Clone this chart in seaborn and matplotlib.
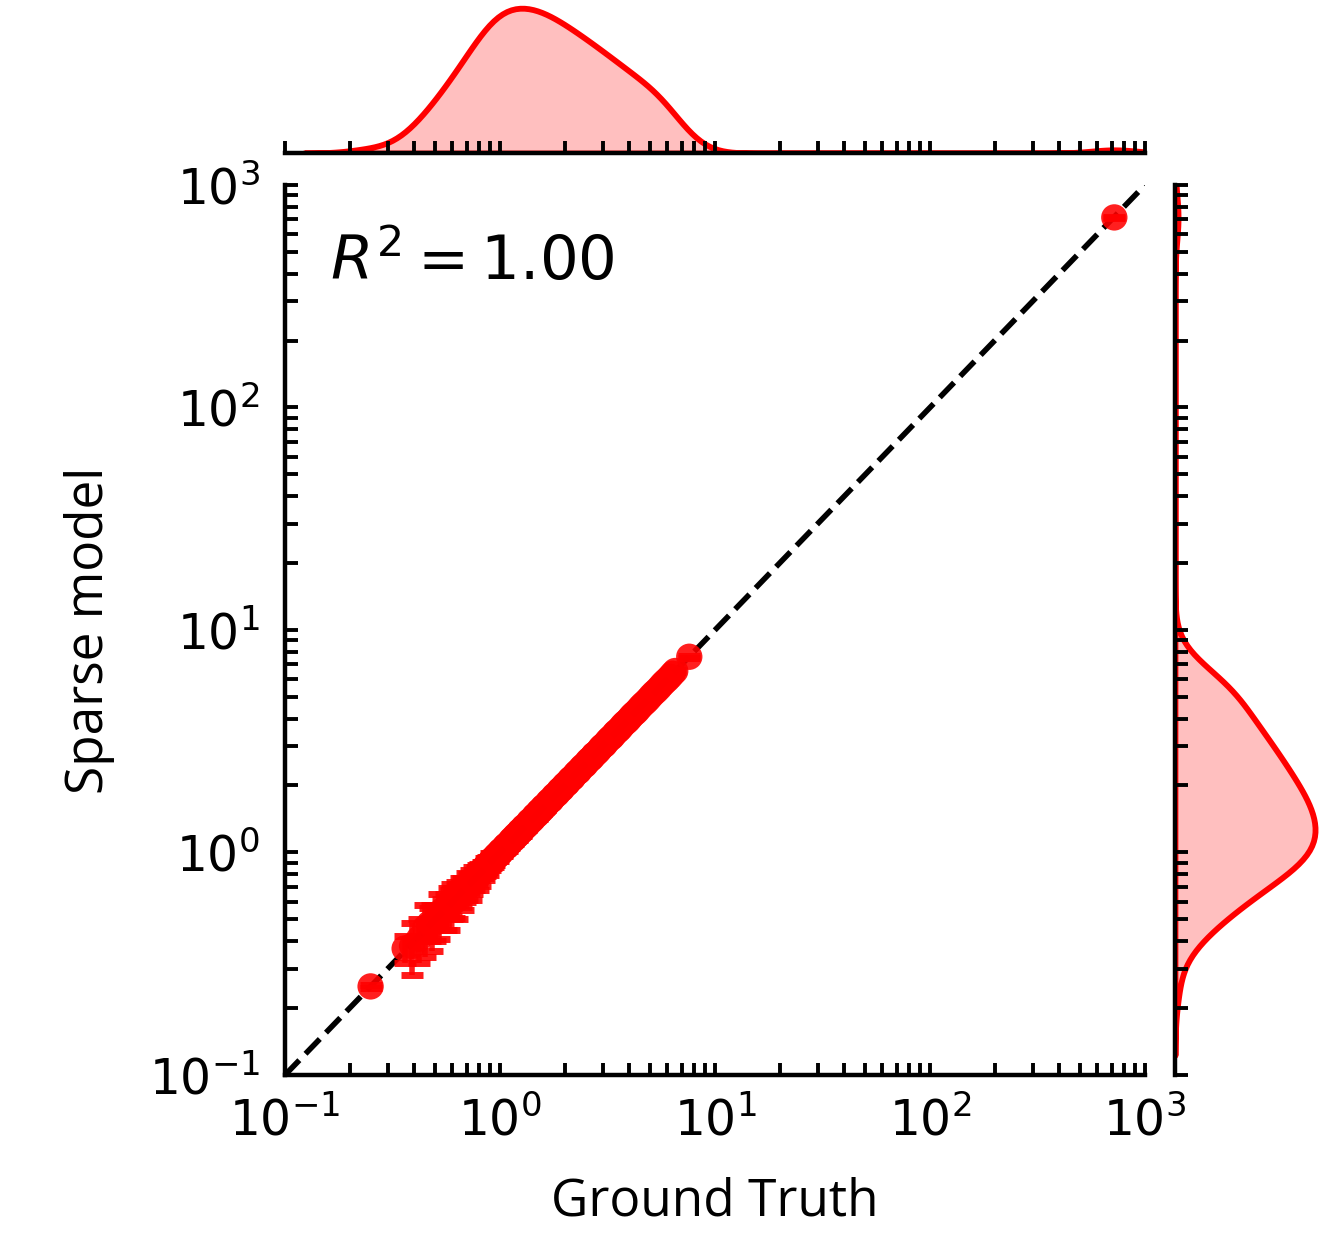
import numpy as np
import pandas as pd
import matplotlib
matplotlib.use("Agg")
import matplotlib.pyplot as plt
import seaborn as sns

ground_truth = [0.25, 0.36, 0.39, 0.42, 0.45, 0.47, 0.48, 0.50, 0.52, 0.54,
                0.56, 0.58, 0.59, 0.60, 0.61, 0.63, 0.64, 0.66, 0.67, 0.69,
                0.70, 0.72, 0.73, 0.74, 0.76, 0.78, 0.79, 0.80, 0.81, 0.83,
                0.84, 0.85, 0.86, 0.87, 0.88, 0.90, 0.91, 0.92, 0.93, 0.94,
                0.95, 0.97, 0.98, 0.99, 1.00, 1.01, 1.02, 1.04, 1.05, 1.07,
                1.08, 1.10, 1.12, 1.14, 1.15, 1.16, 1.17, 1.19, 1.20, 1.22,
                1.23, 1.24, 1.25, 1.27, 1.28, 1.30, 1.32, 1.35, 1.36, 1.38,
                1.40, 1.43, 1.44, 1.46, 1.48, 1.50, 1.51, 1.53, 1.55, 1.57,
                1.58, 1.60, 1.62, 1.64, 1.67, 1.70, 1.72, 1.74, 1.77, 1.80,
                1.83, 1.86, 1.88, 1.91, 1.93, 1.95, 1.98, 2.02, 2.04, 2.07,
                2.10, 2.14, 2.16, 2.19, 2.24, 2.29, 2.31, 2.34, 2.38, 2.43,
                2.47, 2.51, 2.55, 2.60, 2.64, 2.69, 2.72, 2.75, 2.81, 2.88,
                2.93, 2.99, 3.04, 3.09, 3.16, 3.24, 3.29, 3.35, 3.41, 3.47,
                3.55, 3.63, 3.71, 3.80, 3.89, 3.98, 4.07, 4.17, 4.27, 4.37,
                4.49, 4.62, 4.76, 4.90, 5.04, 5.19, 5.34, 5.50, 5.66, 5.82,
                5.99, 6.17, 6.35, 6.53, 7.59, 720.0]
sparse_model = [0.25, 0.37, 0.38, 0.41, 0.46, 0.48, 0.47, 0.49, 0.53, 0.55,
                0.55, 0.57, 0.60, 0.61, 0.60, 0.62, 0.65, 0.67, 0.66, 0.68,
                0.71, 0.73, 0.72, 0.73, 0.77, 0.79, 0.78, 0.81, 0.80, 0.84,
                0.83, 0.84, 0.87, 0.88, 0.87, 0.89, 0.92, 0.93, 0.92, 0.93,
                0.96, 0.98, 0.97, 0.98, 1.01, 1.02, 1.01, 1.03, 1.06, 1.08,
                1.07, 1.09, 1.13, 1.15, 1.14, 1.15, 1.18, 1.20, 1.19, 1.21,
                1.24, 1.25, 1.24, 1.26, 1.29, 1.31, 1.31, 1.34, 1.37, 1.39,
                1.39, 1.42, 1.45, 1.47, 1.47, 1.49, 1.52, 1.54, 1.54, 1.56,
                1.59, 1.61, 1.61, 1.63, 1.68, 1.71, 1.71, 1.73, 1.78, 1.81,
                1.82, 1.85, 1.89, 1.92, 1.92, 1.94, 1.99, 2.03, 2.03, 2.06,
                2.11, 2.15, 2.15, 2.18, 2.25, 2.30, 2.30, 2.33, 2.39, 2.44,
                2.46, 2.50, 2.56, 2.61, 2.63, 2.68, 2.73, 2.76, 2.80, 2.87,
                2.94, 3.00, 3.03, 3.08, 3.17, 3.25, 3.28, 3.34, 3.42, 3.48,
                3.54, 3.62, 3.72, 3.81, 3.88, 3.97, 4.08, 4.18, 4.26, 4.36,
                4.50, 4.63, 4.75, 4.89, 5.05, 5.20, 5.33, 5.49, 5.67, 5.83,
                5.98, 6.16, 6.36, 6.54, 7.58, 715.0]
sparse_err = [0.005, 0.05, 0.10, 0.09, 0.12, 0.08, 0.11, 0.09, 0.12, 0.07,
              0.10, 0.12, 0.08, 0.11, 0.09, 0.12, 0.07, 0.10, 0.11, 0.08,
              0.10, 0.07, 0.11, 0.08, 0.09, 0.07, 0.10, 0.06, 0.09, 0.07,
              0.08, 0.06, 0.07, 0.06, 0.08, 0.06, 0.07, 0.05, 0.06, 0.05,
              0.05, 0.04, 0.05, 0.04, 0.05, 0.04, 0.05, 0.04, 0.05, 0.04,
              0.05, 0.04, 0.05, 0.04, 0.05, 0.04, 0.05, 0.04, 0.05, 0.04,
              0.05, 0.04, 0.05, 0.04, 0.05, 0.04, 0.05, 0.04, 0.05, 0.04,
              0.05, 0.04, 0.05, 0.04, 0.05, 0.04, 0.05, 0.04, 0.05, 0.04,
              0.05, 0.04, 0.05, 0.04, 0.05, 0.04, 0.05, 0.04, 0.05, 0.04,
              0.05, 0.04, 0.05, 0.04, 0.05, 0.04, 0.05, 0.04, 0.05, 0.04,
              0.05, 0.04, 0.05, 0.04, 0.05, 0.04, 0.05, 0.04, 0.05, 0.04,
              0.05, 0.04, 0.05, 0.04, 0.05, 0.04, 0.05, 0.04, 0.05, 0.04,
              0.05, 0.04, 0.05, 0.04, 0.05, 0.04, 0.05, 0.04, 0.05, 0.04,
              0.05, 0.04, 0.05, 0.04, 0.05, 0.04, 0.05, 0.04, 0.05, 0.04,
              0.05, 0.04, 0.05, 0.04, 0.05, 0.04, 0.05, 0.04, 0.05, 0.04,
              0.08, 0.08, 0.08, 0.08, 0.08, 1.0]
axis_limits = [0.1, 1000]
r2_text = r"$R^2 = 1.00$"

plt.rcParams.update({
    "xtick.direction": "in", "ytick.direction": "in",
    "xtick.major.size": 4.5, "xtick.minor.size": 4.5,
    "ytick.major.size": 4.5, "ytick.minor.size": 4.5,
    "xtick.major.width": 1.4, "xtick.minor.width": 1.4,
    "ytick.major.width": 1.4, "ytick.minor.width": 1.4,
    "xtick.major.pad": 8, "ytick.major.pad": 9,
    "axes.linewidth": 1.6,
    "font.size": 17,
    "xtick.labelsize": 17.5, "ytick.labelsize": 17.5,
})

df = pd.DataFrame({"Ground Truth": ground_truth,
                   "Sparse model": sparse_model,
                   "err": sparse_err})

g = sns.JointGrid(data=df, x="Ground Truth", y="Sparse model",
                  height=6, ratio=6, space=0.1, marginal_ticks=False)
g.ax_joint.set_xscale("log")
g.ax_joint.set_yscale("log")

g.plot_marginals(sns.kdeplot, fill=True, color="red", alpha=0.25,
                 linewidth=2.1, bw_adjust=0.75)

ax = g.ax_joint
ax.plot(axis_limits, axis_limits, ls="--", color="black", lw=2, zorder=1)
ax.errorbar(df["Ground Truth"], df["Sparse model"], yerr=df["err"],
            fmt="none", ecolor="red", elinewidth=2, capsize=4, capthick=2.5,
            alpha=0.9, zorder=2)
sns.scatterplot(data=df, x="Ground Truth", y="Sparse model", ax=ax,
                color="red", s=90, alpha=0.88, edgecolor="none", zorder=3)

ax.set_xlim(axis_limits)
ax.set_ylim(axis_limits)
ax.text(0.052, 0.893, r2_text, transform=ax.transAxes, fontsize=22,
        va="baseline", ha="left")

lab_font = {"family": "Open Sans", "size": 18.5}
ax.set_xlabel("Ground Truth", fontdict=lab_font, labelpad=11)
ax.set_ylabel("Sparse model", fontdict=lab_font, labelpad=12)

g.ax_marg_x.tick_params(which="both", labelbottom=False)
g.ax_marg_y.tick_params(which="both", labelleft=False)

fig = g.figure
fig.set_size_inches(6.66, 6.2)
ax.set_position([0.2140, 0.1331, 0.6456, 0.7177])
g.ax_marg_x.set_position([0.2140, 0.8766, 0.6456, 0.1226])
g.ax_marg_y.set_position([0.8821, 0.1331, 0.1104, 0.7177])

fig.savefig("out.png", dpi=200)
